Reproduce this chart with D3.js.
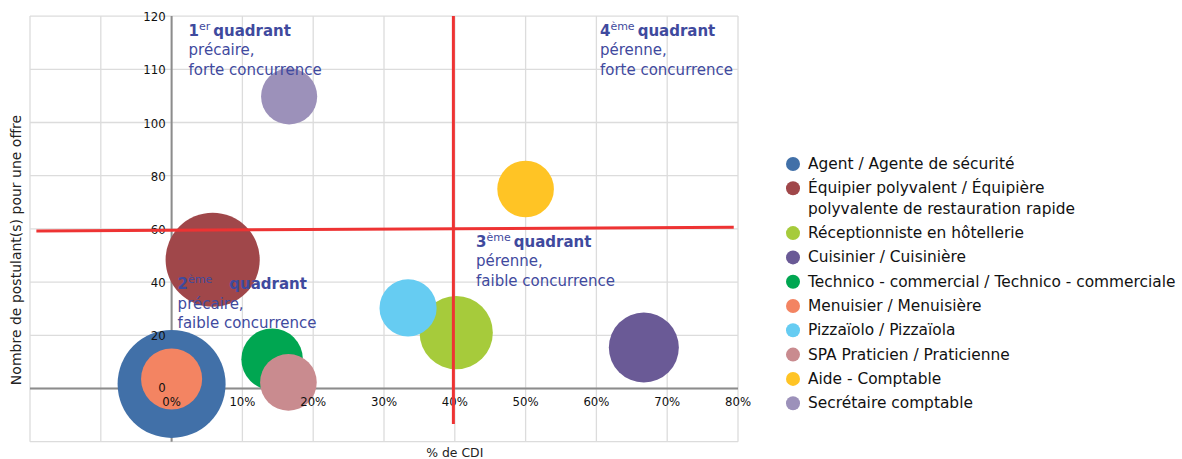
<!DOCTYPE html>
<html>
<head>
<meta charset="utf-8">
<script src="https://cdn.jsdelivr.net/npm/d3@7"></script>
<style>
  body { margin: 0; background: #fff; }
  text { font-family: "DejaVu Sans", sans-serif; }
  .tick { font-family: "DejaVu Sans Condensed", "DejaVu Sans", sans-serif; font-stretch: condensed; }
</style>
</head>
<body>
<svg id="chart" width="1182" height="459"></svg>
<script>
// series, in legend order
var metiers = ["Agent / Agente de sécurité",
  "Équipier polyvalent / Équipière|polyvalente de restauration rapide",
  "Réceptionniste en hôtellerie",
  "Cuisinier / Cuisinière",
  "Technico - commercial / Technico - commerciale",
  "Menuisier / Menuisière",
  "Pizzaïolo / Pizzaïola",
  "SPA Praticien / Praticienne",
  "Aide - Comptable",
  "Secrétaire comptable"]
var pctCDI     = [0, 5.8, 40.2, 66.7, 14.2, 0, 33.4, 16.5, 50, 16.6]
var postulants = [1.7, 48.4, 21, 15.4, 11, 3.6, 30.3, 2.3, 75, 104.9]
var taille     = [100, 76, 46, 42, 32.5, 32, 28, 27.5, 27.5, 27]
var couleurs = ["#4170A8", "#A0474A", "#A6CB3B", "#6A5A96", "#00A651",
  "#F38462", "#66CCF2", "#C98B8F", "#FFC425", "#9C91BA"]

var xTicks = [0, 10, 20, 30, 40, 50, 60, 70, 80]
var xGrid = [-20, -10, 0, 10, 20, 30, 40, 50, 60, 70, 80]
var yTicks = [0, 20, 40, 60, 80, 100, 110, 120]
var yGrid = [-20, 0, 20, 40, 60, 80, 100, 110, 120]

// red separators (hand drawn in the original, slightly tilted)
var seuilH = [[-19.1, 59.2], [79.4, 60.6]]
var seuilV = [[39.8, 120], [39.8, -13.3]]

var quadrants = [
  {n: "1", sup: "er", x: 2.4, y: 116.3, l: ["précaire,", "forte concurrence"], gap: 0},
  {n: "4", sup: "ème", x: 60.5, y: 116.3, l: ["pérenne,", "forte concurrence"], gap: 0},
  {n: "3", sup: "ème", x: 43.0, y: 53.3, l: ["pérenne,", "faible concurrence"], gap: 0},
  {n: "2", sup: "ème", x: 0.85, y: 37.4, l: ["précaire,", "faible concurrence"], gap: 14}
]

var svg = d3.select("#chart")
var x = d3.scaleLinear().domain([-20, 80]).range([30, 738])
var y = d3.scaleLinear().domain([-20, 100, 120]).range([441.7, 122.5, 16.1])
var r = d3.scaleSqrt().domain([0, 100]).range([0, 54])

// grid
svg.append("g").selectAll("line").data(xGrid).enter().append("line")
  .attr("x1", d => x(d)).attr("x2", d => x(d))
  .attr("y1", y(120)).attr("y2", y(-20))
  .attr("stroke", "#dcdcdc").attr("stroke-width", 1.3)
svg.append("g").selectAll("line").data(yGrid).enter().append("line")
  .attr("x1", x(-20)).attr("x2", x(80))
  .attr("y1", d => y(d)).attr("y2", d => y(d))
  .attr("stroke", "#dcdcdc").attr("stroke-width", 1.3)

// axes
svg.append("line").attr("x1", x(0)).attr("x2", x(0)).attr("y1", y(120)).attr("y2", y(-20))
  .attr("stroke", "#8c8c8c").attr("stroke-width", 2)
svg.append("line").attr("x1", x(-20)).attr("x2", x(80)).attr("y1", y(0)).attr("y2", y(0))
  .attr("stroke", "#8c8c8c").attr("stroke-width", 2)

// bubbles
svg.append("g").selectAll("circle").data(d3.range(metiers.length)).enter().append("circle")
  .attr("cx", i => x(pctCDI[i]))
  .attr("cy", i => y(postulants[i]))
  .attr("r", i => r(taille[i]))
  .attr("fill", i => couleurs[i])

// tick labels
svg.append("g").selectAll("text").data(yTicks).enter().append("text")
  .attr("class", "tick")
  .attr("x", x(0) - 6)
  .attr("y", d => y(d) + (d == 0 ? 3 : 5))
  .attr("text-anchor", "end")
  .attr("font-size", "13px").attr("fill", "#111")
  .text(d => d)
svg.append("g").selectAll("text").data(xTicks).enter().append("text")
  .attr("class", "tick")
  .attr("x", d => x(d))
  .attr("y", y(0) + 17)
  .attr("text-anchor", "middle")
  .attr("font-size", "13px").attr("fill", "#111")
  .text(d => d + "%")

// axis titles
svg.append("text").attr("x", x(40)).attr("y", 457).attr("text-anchor", "middle")
  .attr("font-size", "12.4px").attr("fill", "#222").text("% de CDI")
svg.append("text").attr("transform", "translate(21,250) rotate(-90)").attr("text-anchor", "middle")
  .attr("font-size", "14px").attr("fill", "#222").text("Nombre de postulant(s) pour une offre")

// red separators
var ligne = d3.line().x(d => x(d[0])).y(d => y(d[1]))
svg.append("path").attr("d", ligne(seuilH)).attr("stroke", "#EE3333").attr("stroke-width", 3).attr("fill", "none")
svg.append("path").attr("d", ligne(seuilV)).attr("stroke", "#EE3333").attr("stroke-width", 3).attr("fill", "none")

// quadrant labels
quadrants.forEach(function(q)
{
  var t = svg.append("text").attr("x", x(q.x)).attr("y", y(q.y))
    .attr("font-size", "15px").attr("fill", "#3F4A9E")
  t.append("tspan").attr("font-weight", "bold").text(q.n)
  t.append("tspan").attr("font-size", "11px").attr("dy", -6).text(q.sup)
  t.append("tspan").attr("font-weight", "bold").attr("dy", 6).attr("dx", 3 + q.gap).text("quadrant")
  q.l.forEach(function(s, k)
  {
    t.append("tspan").attr("x", x(q.x)).attr("dy", 19.5).text(s)
  })
})

// legend
var ly = 164
var leg = svg.append("g")
metiers.forEach(function(m, i)
{
  var parts = m.split("|")
  leg.append("circle").attr("cx", 793).attr("cy", ly).attr("r", 7).attr("fill", couleurs[i])
  var t = leg.append("text").attr("x", 808).attr("y", ly + 5)
    .attr("font-size", "15.4px").attr("fill", "#111")
  parts.forEach(function(p, k)
  {
    t.append("tspan").attr("x", 808).attr("dy", k == 0 ? 0 : 20.5).text(p)
  })
  ly += 24.3 + (parts.length - 1) * 20.5
})
</script>
</body>
</html>
